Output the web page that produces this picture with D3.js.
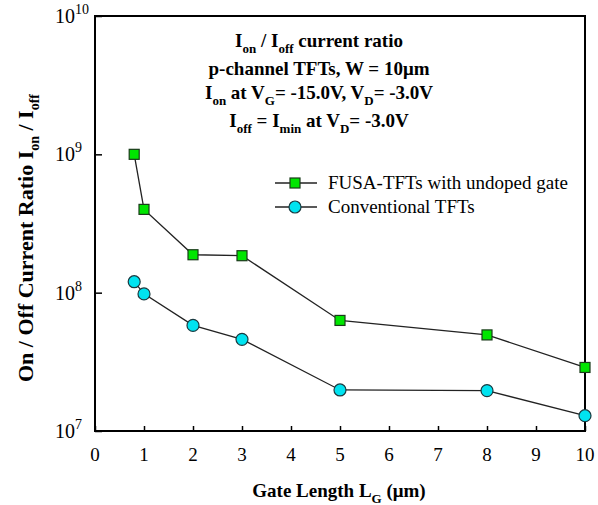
<!DOCTYPE html>
<html>
<head>
<meta charset="utf-8">
<script src="https://cdn.jsdelivr.net/npm/d3@7"></script>
<style>
  body { margin: 0; background: #fff; }
  text { font-family: "Liberation Serif", "Times New Roman", serif; fill: #000; }
</style>
</head>
<body>
<div id="chart"></div>
<script>
// data
var gateLength = [0.8, 1, 2, 3, 5, 8, 10];
var fusaRatio = [1.0e9, 4.0e8, 1.88e8, 1.85e8, 6.3e7, 4.95e7, 2.88e7];
var convRatio = [1.2e8, 9.8e7, 5.8e7, 4.6e7, 1.98e7, 1.96e7, 1.29e7];
var xTicks = [0, 1, 2, 3, 4, 5, 6, 7, 8, 9, 10];
var yTicks = [1e7, 1e8, 1e9, 1e10];

var W = 598, H = 505;
// note: "top" is taken by window.top, so use prefixed names
var pLeft = 95, pRight = 585, pTop = 16, pBottom = 431;

var svg = d3.select('#chart').append('svg')
    .attr('width', W).attr('height', H);

var x = d3.scaleLinear().domain([0, 10]).range([pLeft, pRight]);
var y = d3.scaleLog().domain([1e7, 1e10]).range([pBottom, pTop]);

// helper for text with sub / superscripts
function rich(sel, parts, big, small) {
    var shift = 0;
    parts.forEach(function (p) {
        var t = sel.append('tspan').text(p[0]);
        var target = p[1] == 'sub' ? 6 : (p[1] == 'sup' ? -9 : 0);
        t.attr('dy', target - shift).style('font-size', (p[1] ? small : big) + 'px');
        shift = target;
    });
}

// frame
svg.append('rect')
    .attr('x', pLeft).attr('y', pTop)
    .attr('width', pRight - pLeft).attr('height', pBottom - pTop)
    .attr('fill', 'none').attr('stroke', '#000').attr('stroke-width', 2);

// x axis: inward ticks
var xAxis = svg.append('g')
    .attr('transform', 'translate(0,' + pBottom + ')')
    .call(d3.axisTop(x).tickValues(xTicks).tickSize(5).tickFormat(''));
xAxis.select('.domain').remove();
xAxis.selectAll('line').attr('stroke', '#000').attr('stroke-width', 1.5);

svg.selectAll('.xlab').data(xTicks).enter().append('text')
    .attr('class', 'xlab')
    .attr('x', function (d) { return x(d); })
    .attr('y', 461)
    .attr('text-anchor', 'middle')
    .style('font-size', '19px')
    .text(function (d) { return d; });

// y axis: inward ticks at decades
var yAxis = svg.append('g')
    .attr('transform', 'translate(' + pLeft + ',0)')
    .call(d3.axisRight(y).tickValues(yTicks).tickSize(7).tickFormat(''));
yAxis.select('.domain').remove();
yAxis.selectAll('line').attr('stroke', '#000').attr('stroke-width', 1.5);

svg.selectAll('.ylab').data(yTicks).enter().append('text')
    .attr('class', 'ylab')
    .attr('x', 55)
    .attr('y', function (d) { return y(d) + 7; })
    .each(function (d) {
        rich(d3.select(this), [['10', ''], [String(Math.round(Math.log10(d))), 'sup']], 20, 14);
    });

// lines
var line = d3.line()
    .x(function (d) { return x(d[0]); })
    .y(function (d) { return y(d[1]); });

var fusa = d3.zip(gateLength, fusaRatio);
var conv = d3.zip(gateLength, convRatio);

svg.append('path').datum(fusa).attr('d', line)
    .attr('fill', 'none').attr('stroke', '#222').attr('stroke-width', 1.3);
svg.append('path').datum(conv).attr('d', line)
    .attr('fill', 'none').attr('stroke', '#222').attr('stroke-width', 1.3);

var sq = 10;
svg.selectAll('.sq').data(fusa).enter().append('rect')
    .attr('class', 'sq')
    .attr('x', function (d) { return x(d[0]) - sq / 2; })
    .attr('y', function (d) { return y(d[1]) - sq / 2; })
    .attr('width', sq).attr('height', sq)
    .attr('fill', '#00e600').attr('stroke', '#1a3a1a').attr('stroke-width', 1.2);

svg.selectAll('.ci').data(conv).enter().append('circle')
    .attr('class', 'ci')
    .attr('cx', function (d) { return x(d[0]); })
    .attr('cy', function (d) { return y(d[1]); })
    .attr('r', 6)
    .attr('fill', '#00e3f0').attr('stroke', '#1a3a40').attr('stroke-width', 1.2);

// legend
var lg = svg.append('g');
lg.append('line').attr('x1', 275).attr('x2', 317).attr('y1', 183).attr('y2', 183)
    .attr('stroke', '#222').attr('stroke-width', 1.3);
lg.append('rect').attr('x', 290).attr('y', 178).attr('width', sq).attr('height', sq)
    .attr('fill', '#00e600').attr('stroke', '#1a3a1a').attr('stroke-width', 1.2);
lg.append('text').attr('x', 328).attr('y', 189).style('font-size', '19px')
    .text('FUSA-TFTs with undoped gate');
lg.append('line').attr('x1', 275).attr('x2', 317).attr('y1', 207).attr('y2', 207)
    .attr('stroke', '#222').attr('stroke-width', 1.3);
lg.append('circle').attr('cx', 295).attr('cy', 207).attr('r', 6)
    .attr('fill', '#00e3f0').attr('stroke', '#1a3a40').attr('stroke-width', 1.2);
lg.append('text').attr('x', 328).attr('y', 213).style('font-size', '19px')
    .text('Conventional TFTs');

// annotation block
var notes = [
    [['I', ''], ['on', 'sub'], [' / I', ''], ['off', 'sub'], [' current ratio', '']],
    [['p-channel TFTs, W = 10\u03bcm', '']],
    [['I', ''], ['on', 'sub'], [' at V', ''], ['G', 'sub'], ['= -15.0V, V', ''], ['D', 'sub'], ['= -3.0V', '']],
    [['I', ''], ['off', 'sub'], [' = I', ''], ['min', 'sub'], [' at V', ''], ['D', 'sub'], ['= -3.0V', '']]
];
var noteY = [47, 75, 99, 127];
notes.forEach(function (parts, i) {
    var t = svg.append('text')
        .attr('x', 319).attr('y', noteY[i])
        .attr('text-anchor', 'middle')
        .style('font-weight', 'bold');
    rich(t, parts, 19, 13);
});

// axis titles
var xt = svg.append('text')
    .attr('x', 339).attr('y', 497)
    .attr('text-anchor', 'middle')
    .style('font-weight', 'bold');
rich(xt, [['Gate Length L', ''], ['G', 'sub'], [' (\u03bcm)', '']], 19, 13);

var yt = svg.append('text')
    .attr('transform', 'translate(33,238) rotate(-90)')
    .attr('text-anchor', 'middle')
    .style('font-weight', 'bold');
rich(yt, [['On / Off Current Ratio I', ''], ['on', 'sub'], [' / I', ''], ['off', 'sub']], 22, 14);
</script>
</body>
</html>
